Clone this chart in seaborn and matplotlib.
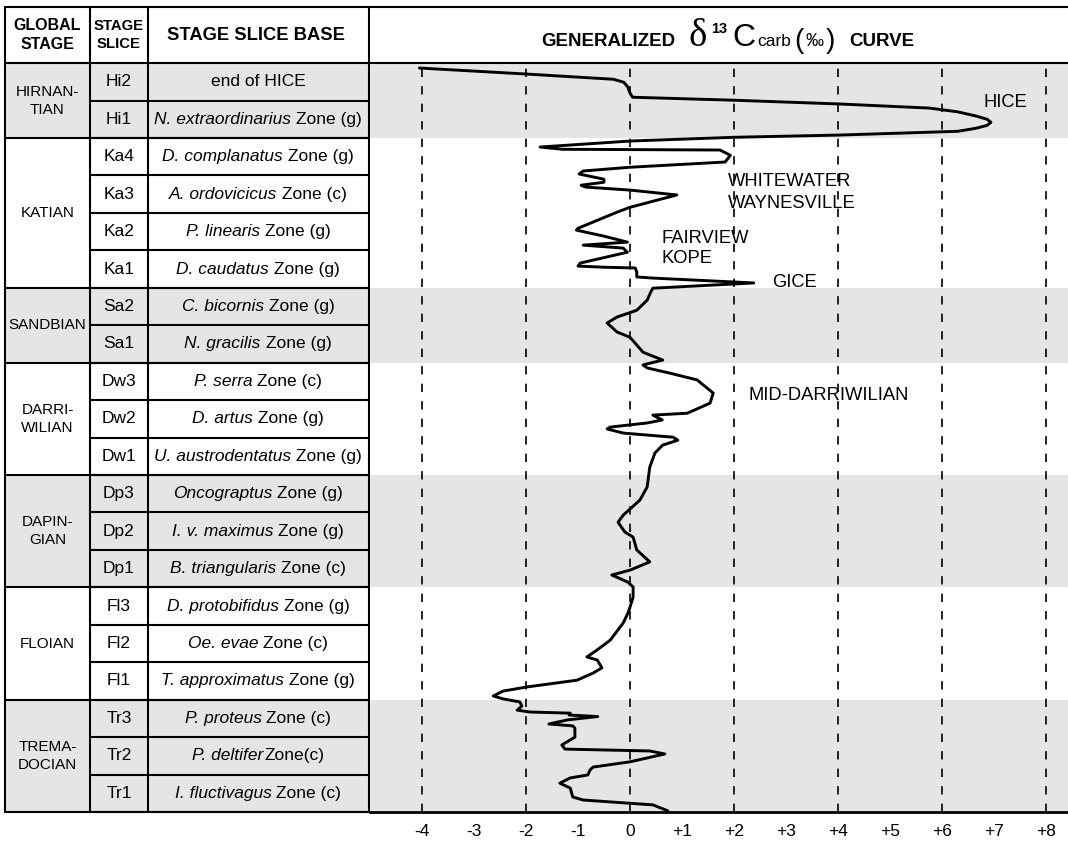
import numpy as np
import matplotlib
matplotlib.use("Agg")
import matplotlib.pyplot as plt
import seaborn as sns
import pandas as pd

sns.set_style("white")
plt.rcParams['font.family'] = ['Liberation Sans', 'DejaVu Sans']
plt.rcParams['text.color'] = 'black'
plt.rcParams['xtick.color'] = 'black'
plt.rcParams['axes.labelcolor'] = 'black'

# ---- table data ----
stages = ["HIRNAN-\nTIAN", "KATIAN", "SANDBIAN", "DARRI-\nWILIAN", "DAPIN-\nGIAN", "FLOIAN", "TREMA-\nDOCIAN"]
stage_nslices = [2, 4, 2, 3, 3, 3, 3]
stage_shaded = [True, False, True, False, True, False, True]
slices = ["Hi2", "Hi1", "Ka4", "Ka3", "Ka2", "Ka1", "Sa2", "Sa1", "Dw3", "Dw2",
          "Dw1", "Dp3", "Dp2", "Dp1", "Fl3", "Fl2", "Fl1", "Tr3", "Tr2", "Tr1"]
zone_italic = ["", "N. extraordinarius", "D. complanatus", "A. ordovicicus", "P. linearis",
               "D. caudatus", "C. bicornis", "N. gracilis", "P. serra", "D. artus",
               "U. austrodentatus", "Oncograptus", "I. v. maximus", "B. triangularis",
               "D. protobifidus", "Oe. evae", "T. approximatus", "P. proteus", "P. deltifer",
               "I. fluctivagus"]
zone_rest = ["end of HICE", "Zone (g)", "Zone (g)", "Zone (c)", "Zone (g)", "Zone (g)",
             "Zone (g)", "Zone (g)", "Zone (c)", "Zone (g)", "Zone (g)", "Zone (g)",
             "Zone (g)", "Zone (c)", "Zone (g)", "Zone (c)", "Zone (g)", "Zone (c)",
             "Zone(c)", "Zone (c)"]
zone_gap = [True] * 18 + [False, True]

# ---- curve data (d13C permil vs. level in stage-slice units, 0 = base of Tr1) ----
d13c = [-4.05, -2.0, -0.32, -0.12, -0.04, 0.0, 0.05, 2.0, 4.03, 5.76, 6.3, 6.65, 6.87,
        6.94, 6.87, 6.65, 6.3, 4.03, 2.0,
        0.0, -1.73, -1.3, 1.73, 1.93, 1.83, 0.0, -0.9, -0.98, -0.5, -0.5, -0.94, -0.85, 0.0,
        0.9, 0.0, -0.25, -1.0, -1.03, -0.5, -0.05, -0.9, -0.13, -0.05, -0.96, -1.0, -0.5, 0.1,
        0.13, 0.13, 0.44, 2.38, 0.44, 0.4, 0.33, 0.13, -0.25, -0.44, -0.25, 0.0, 0.13, 0.25,
        0.63, 0.25, 0.33, 0.77, 1.29, 1.6, 1.54, 1.1, 0.44, 0.62, 0.33, -0.38, -0.44, -0.13,
        0.83, 0.92, 0.63, 0.48, 0.38, 0.33, 0.19, -0.13, -0.23, -0.1, 0.06, 0.13, 0.38, 0.0,
        -0.35, -0.04, 0.06, 0.06, 0.0, -0.04, -0.13, -0.38, -0.63, -0.83, -0.63, -0.54, -0.71,
        -1.02, -1.98, -2.44, -2.63, -2.44, -2.12, -2.08, -2.17, -1.92, -1.15, -1.17, -0.62,
        -1.2, -1.56, -1.1, -1.06, -1.06, -1.31, -1.25, 0.38, 0.67, 0.0, -0.71, -0.77, -0.81,
        -1.15, -1.35, -1.15, -1.1, -0.9, 0.44, 0.73]
level = [19.87, 19.71, 19.57, 19.49, 19.36, 19.20, 19.09, 19.01, 18.91, 18.80, 18.70, 18.59,
         18.50, 18.42, 18.34, 18.26, 18.18, 18.08, 18.02, 17.92, 17.76, 17.70, 17.68, 17.54,
         17.36, 17.22, 17.12, 17.04, 16.90,
         16.82, 16.74, 16.69, 16.61, 16.48, 16.15, 16.02, 15.59, 15.54, 15.38, 15.22, 15.14,
         15.06, 14.95, 14.66, 14.58, 14.55, 14.53, 14.42, 14.29, 14.26, 14.13, 13.99, 13.89,
         13.67, 13.40, 13.22, 13.06, 12.82, 12.68, 12.47, 12.28, 12.07, 11.94, 11.86, 11.72,
         11.54, 11.19, 10.92, 10.65, 10.60, 10.47, 10.39, 10.28, 10.23, 10.12, 10.01, 9.93,
         9.80, 9.59, 9.21, 8.68, 8.33, 7.93, 7.74, 7.48, 7.34, 7.00, 6.68, 6.46, 6.33, 6.14,
         6.01, 5.74, 5.47, 5.31, 5.05, 4.59, 4.33, 4.14, 4.06, 3.85, 3.71, 3.52, 3.34, 3.23,
         3.10, 3.02, 2.94, 2.83, 2.72, 2.67, 2.64, 2.59, 2.55, 2.46, 2.35, 2.30, 2.24, 2.00,
         1.79, 1.68, 1.63, 1.55, 1.34, 1.20, 1.12, 0.99, 0.91, 0.77, 0.64, 0.40, 0.32, 0.19,
         0.03]

events = ["HICE", "WHITEWATER", "WAYNESVILLE", "FAIRVIEW", "KOPE", "GICE", "MID-DARRIWILIAN"]
event_x = [6.79, 1.88, 1.88, 0.6, 0.6, 2.73, 2.27]
event_y = [18.96, 16.85, 16.26, 15.33, 14.79, 14.13, 11.13]

tick_vals = list(range(-4, 9))
tick_labels = [str(v) if v <= 0 else "+" + str(v) for v in tick_vals]

W, H = 1068, 841
GRAY = "#e5e5e5"
LW = 1.5
NROWS = 20
YTOP = 21.5
FS = 12.5

fig = plt.figure(figsize=(W / 100, H / 100), dpi=100)
bottom = (H - 812) / H
height = (812 - 7) / H
ax_t = fig.add_axes([0, bottom, 369 / W, height])
ax = fig.add_axes([370 / W, bottom, (W - 370) / W, height])
rend = fig.canvas.get_renderer()

# ---- stage boundaries ----
bounds = [NROWS]
for n in stage_nslices:
    bounds.append(bounds[-1] - n)

# ---- table ----
ax_t.set_xlim(0, 369)
ax_t.set_ylim(0, YTOP)
ax_t.axis("off")
col_x = [5, 90, 148, 369]
for i, st in enumerate(stages):
    top, bot = bounds[i], bounds[i + 1]
    if stage_shaded[i]:
        ax_t.fill_between([5, 369], bot, top, color=GRAY, lw=0)
    ax_t.text(47.5, (top + bot) / 2, st, ha="center", va="center", fontsize=11,
              linespacing=1.35)
    ax_t.plot([5, 369], [bot, bot], color="black", lw=LW, clip_on=False)

space_w = ax_t.text(0, 0, "a a", fontsize=FS).get_window_extent(rend).width - \
    ax_t.text(0, 0, "aa", fontsize=FS).get_window_extent(rend).width
for t in list(ax_t.texts)[-2:]:
    t.remove()

for r in range(NROWS):
    y = NROWS - r - 1
    ax_t.plot([90, 369], [y, y], color="black", lw=LW, clip_on=False)
    yc = y + 0.5
    ax_t.text(119, yc, slices[r], ha="center", va="center", fontsize=FS)
    if not zone_italic[r]:
        ax_t.text(258, yc, zone_rest[r], ha="center", va="center", fontsize=FS)
        continue
    t1 = ax_t.text(0, yc, zone_italic[r], ha="left", va="center", fontsize=FS, style="italic")
    t2 = ax_t.text(0, yc, zone_rest[r], ha="left", va="center", fontsize=FS)
    w1 = t1.get_window_extent(rend).width
    w2 = t2.get_window_extent(rend).width
    gap = space_w if zone_gap[r] else 1.0
    cx, cy = ax_t.transData.transform((258, yc))
    left = cx - (w1 + gap + w2) / 2
    x1 = ax_t.transData.inverted().transform((left, cy))[0]
    x2 = ax_t.transData.inverted().transform((left + w1 + gap, cy))[0]
    t1.set_x(x1)
    t2.set_x(x2)

for x in col_x:
    ax_t.plot([x, x], [0, YTOP], color="black", lw=LW, clip_on=False)
ax_t.plot([5, 369], [YTOP, YTOP], color="black", lw=LW, clip_on=False)
ax_t.plot([5, 369], [NROWS, NROWS], color="black", lw=LW, clip_on=False)
hy = (NROWS + YTOP) / 2
ax_t.text(47.5, hy, "GLOBAL\nSTAGE", ha="center", va="center", fontsize=11.5,
          fontweight="bold", linespacing=1.3)
ax_t.text(119, hy, "STAGE\nSLICE", ha="center", va="center", fontsize=10.7,
          fontweight="bold", linespacing=1.3)
ax_t.text(256, hy, "STAGE SLICE BASE", ha="center", va="center", fontsize=13.2,
          fontweight="bold")

# ---- curve panel ----
ax.set_xlim((370 - 630) / 52, (W - 630) / 52)
ax.set_ylim(0, YTOP)
for i in range(len(stages)):
    if stage_shaded[i]:
        ax.axhspan(bounds[i + 1], bounds[i], color=GRAY, lw=0, zorder=0)
for v in range(-4, 9, 2):
    ax.plot([v, v], [0, NROWS], color="black", lw=1.2, ls=(0, (5, 5.5)), zorder=1)
ax.axhline(NROWS, color="black", lw=LW, zorder=2)

df = pd.DataFrame({"d13c": d13c, "level": level})
sns.lineplot(data=df, x="d13c", y="level", sort=False, estimator=None, color="black",
             lw=2.1, ax=ax, zorder=3, solid_joinstyle="round", solid_capstyle="round")

for name, ex, ey in zip(events, event_x, event_y):
    ax.text(ex, ey, name, ha="left", va="center", fontsize=13.2)

ax.set_xticks(tick_vals)
ax.set_xticklabels(tick_labels, fontsize=12.5)
ax.set_xticks([v for v in tick_vals if v % 2], minor=True)
ax.tick_params(axis="x", which="major", length=0, pad=9)
ax.tick_params(axis="x", which="minor", direction="in", length=8, width=1.5, color="black")
ax.set_yticks([])
ax.set_xlabel("")
ax.set_ylabel("")
for s in ["left", "right"]:
    ax.spines[s].set_visible(False)
ax.spines["top"].set_linewidth(LW)
ax.spines["bottom"].set_linewidth(2)
ax.spines["top"].set_color("black")
ax.spines["bottom"].set_color("black")

# ---- title pieces ----
def fx(px):
    return px / W

def fy(py):
    return 1 - py / H

base = 46
fig.text(fx(541), fy(base), "GENERALIZED", fontsize=13.5, fontweight="bold", va="baseline")
fig.text(fx(689), fy(base), "δ", fontsize=28, va="baseline", family=["Liberation Serif", "DejaVu Serif"])
fig.text(fx(711), fy(33), "13", fontsize=10.5, fontweight="bold", va="baseline")
fig.text(fx(732), fy(base), "C", fontsize=23, va="baseline")
fig.text(fx(757), fy(base), "carb", fontsize=12.5, va="baseline")
fig.text(fx(794), fy(base + 2), "(", fontsize=20, va="baseline")
fig.text(fx(805), fy(base), "‰", fontsize=13, va="baseline")
fig.text(fx(826), fy(base + 2), ")", fontsize=20, va="baseline")
fig.text(fx(849), fy(base), "CURVE", fontsize=13.5, fontweight="bold", va="baseline")

plt.savefig("out.png", dpi=100)
